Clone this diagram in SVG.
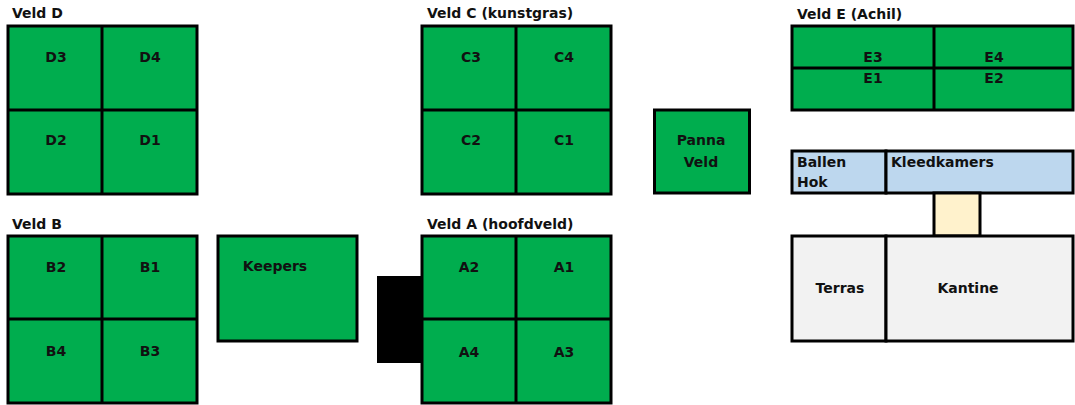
<svg xmlns="http://www.w3.org/2000/svg" width="1075" height="405" viewBox="0 0 1075 405">
<style>
text{font-family:"DejaVu Sans","Open Sans",sans-serif;font-weight:bold;font-size:14px;fill:#111}
.c{text-anchor:middle;dominant-baseline:central}
.g{fill:#00ad4e;stroke:#000;stroke-width:3}
.l{stroke:#000;stroke-width:3;fill:none}
.b{fill:#bdd7ee;stroke:#000;stroke-width:3}
.y{fill:#fff2cc;stroke:#000;stroke-width:3}
.w{fill:#f2f2f2;stroke:#000;stroke-width:3}
</style>
<rect width="1075" height="405" fill="#fff"/>
<g id="veld-d">
<text x="12" y="18">Veld D</text>
<rect class="g" x="8" y="26" width="189" height="168"/>
<line class="l" x1="102" y1="26" x2="102" y2="194"/>
<line class="l" x1="8" y1="110" x2="197" y2="110"/>
<text class="c" x="56" y="57">D3</text>
<text class="c" x="150" y="57">D4</text>
<text class="c" x="56" y="140">D2</text>
<text class="c" x="150" y="140">D1</text>
</g>
<g id="veld-c">
<text x="427" y="18">Veld C (kunstgras)</text>
<rect class="g" x="422" y="26" width="189" height="168"/>
<line class="l" x1="516" y1="26" x2="516" y2="194"/>
<line class="l" x1="422" y1="110" x2="611" y2="110"/>
<text class="c" x="471" y="57">C3</text>
<text class="c" x="564" y="57">C4</text>
<text class="c" x="471" y="140">C2</text>
<text class="c" x="564" y="140">C1</text>
</g>
<g id="panna">
<rect class="g" x="654.5" y="110" width="95" height="83"/>
<text class="c" x="701" y="140">Panna</text>
<text class="c" x="701" y="162">Veld</text>
</g>
<g id="veld-e">
<text x="797" y="19">Veld E (Achil)</text>
<rect class="g" x="792" y="26" width="281" height="84"/>
<line class="l" x1="934" y1="26" x2="934" y2="110"/>
<line class="l" x1="792" y1="68" x2="1073" y2="68"/>
<text class="c" x="873" y="57">E3</text>
<text class="c" x="994" y="57">E4</text>
<text class="c" x="873" y="78">E1</text>
<text class="c" x="994" y="78">E2</text>
</g>
<g id="ballen-hok">
<rect class="b" x="792" y="151" width="94" height="42"/>
<text x="797" y="167">Ballen</text>
<text x="797" y="187">Hok</text>
</g>
<g id="kleedkamers">
<rect class="b" x="886" y="151" width="187" height="42"/>
<text x="891" y="167">Kleedkamers</text>
</g>
<g id="gang">
<rect class="y" x="934" y="193" width="46" height="43"/>
</g>
<g id="terras">
<rect class="w" x="792" y="236" width="94" height="105"/>
<text class="c" x="840" y="288">Terras</text>
</g>
<g id="kantine">
<rect class="w" x="886" y="236" width="187" height="105"/>
<text class="c" x="968" y="288">Kantine</text>
</g>
<g id="veld-b">
<text x="12" y="229">Veld B</text>
<rect class="g" x="8" y="236" width="189" height="167"/>
<line class="l" x1="102" y1="236" x2="102" y2="403"/>
<line class="l" x1="8" y1="319" x2="197" y2="319"/>
<text class="c" x="56" y="267">B2</text>
<text class="c" x="150" y="267">B1</text>
<text class="c" x="56" y="351">B4</text>
<text class="c" x="150" y="351">B3</text>
</g>
<g id="keepers">
<rect class="g" x="218" y="236" width="139" height="105"/>
<text class="c" x="275" y="266">Keepers</text>
</g>
<g id="tribune">
<rect x="377" y="276" width="46" height="87" fill="#000"/>
</g>
<g id="veld-a">
<text x="427" y="229">Veld A (hoofdveld)</text>
<rect class="g" x="422" y="236" width="189" height="167"/>
<line class="l" x1="516" y1="236" x2="516" y2="403"/>
<line class="l" x1="422" y1="319" x2="611" y2="319"/>
<text class="c" x="469" y="267">A2</text>
<text class="c" x="564" y="267">A1</text>
<text class="c" x="469" y="352">A4</text>
<text class="c" x="564" y="352">A3</text>
</g>
<g id="connectors"></g>
</svg>
